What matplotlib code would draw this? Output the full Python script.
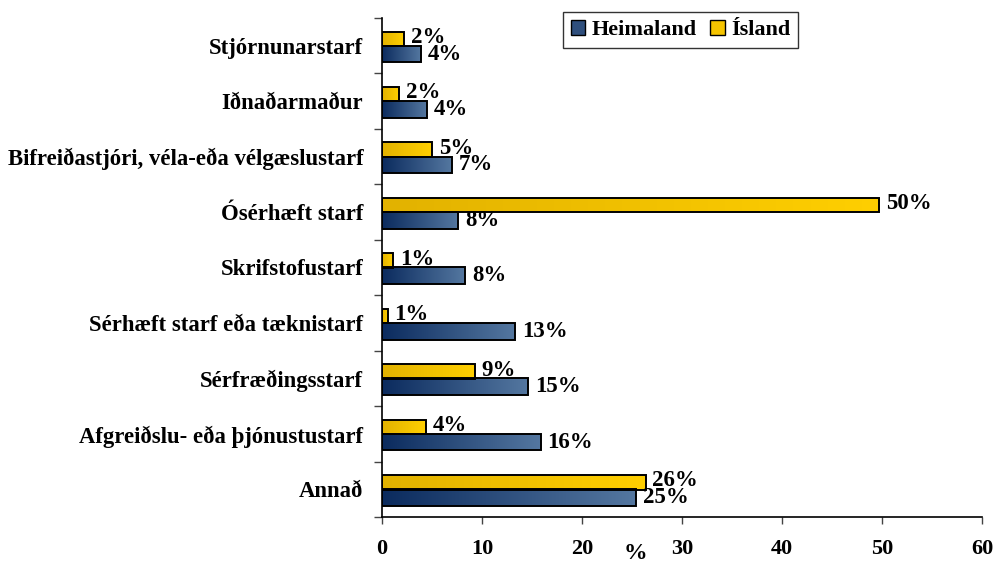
import numpy as np
import matplotlib
matplotlib.use("Agg")
import matplotlib.pyplot as plt
from matplotlib.colors import LinearSegmentedColormap
from matplotlib.patches import Patch

plt.rcParams['font.family'] = ['Liberation Serif', 'DejaVu Serif']
plt.rcParams['font.weight'] = 'bold'

categories = [
    "Stjórnunarstarf",
    "Iðnaðarmaður",
    "Bifreiðastjóri, véla-eða vélgæslustarf",
    "Ósérhæft starf",
    "Skrifstofustarf",
    "Sérhæft starf eða tæknistarf",
    "Sérfræðingsstarf",
    "Afgreiðslu- eða þjónustustarf",
    "Annað",
]
heimaland = [3.9, 4.45, 7.0, 7.6, 8.3, 13.3, 14.6, 15.85, 25.4]
island = [2.2, 1.7, 5.0, 49.75, 1.1, 0.55, 9.25, 4.4, 26.35]
series_names = ["Heimaland", "Ísland"]
xticks = [0, 10, 20, 30, 40, 50, 60]

blue_cmap = LinearSegmentedColormap.from_list("blue", ["#0b2b5e", "#5477a0"])
gold_cmap = LinearSegmentedColormap.from_list("gold", ["#e2b200", "#ffcf00"])

fig = plt.figure(figsize=(9.94, 5.65), dpi=100)
ax = fig.add_axes([382 / 994, 48 / 565, 600 / 994, 499 / 565])

y = np.arange(len(categories))
grad = np.linspace(0, 1, 256).reshape(1, -1)


def gradient_bars(values, offset, height, cmap):
    bars = ax.barh(y + offset, values, height=height, facecolor="none",
                   edgecolor="black", linewidth=1.4, zorder=3)
    for rect, v in zip(bars, values):
        x0, y0 = rect.get_x(), rect.get_y()
        im = ax.imshow(grad, cmap=cmap, aspect="auto", zorder=2,
                       extent=(x0, x0 + v, y0, y0 + rect.get_height()),
                       interpolation="bicubic")
        im.set_clip_path(rect)
    return bars


gradient_bars(island, -0.125, 0.26, gold_cmap)
gradient_bars(heimaland, 0.15, 0.30, blue_cmap)

for yi, v in zip(y, island):
    ax.annotate(f"{v:.0f}%", (v, yi - 0.15), xytext=(5, 0), textcoords="offset points",
                ha="left", va="center", fontsize=16.5, fontweight="bold", zorder=4)
for yi, v in zip(y, heimaland):
    ax.annotate(f"{v:.0f}%", (v, yi + 0.15), xytext=(5, 0), textcoords="offset points",
                ha="left", va="center", fontsize=16.5, fontweight="bold", zorder=4)

ax.set_xlim(0, 60)
ax.set_ylim(len(categories) - 0.5, -0.5)
ax.set_xticks(xticks)
ax.set_xticklabels([str(t) for t in xticks], fontsize=16, fontweight="bold")
ax.set_yticks(y)
ax.set_yticklabels(categories, fontsize=16.4, fontweight="bold")
ax.set_yticks(np.arange(-0.5, len(categories) + 0.5, 1), minor=True)
ax.tick_params(axis="y", which="major", length=0, pad=13.5)
ax.tick_params(axis="y", which="minor", length=6, width=1, direction="out", color="#444444")
ax.tick_params(axis="x", which="major", length=5, width=1, direction="out", pad=11, color="#444444")

for s in ["top", "right"]:
    ax.spines[s].set_visible(False)
for s in ["left", "bottom"]:
    ax.spines[s].set_linewidth(1.2)

ax.text(0.423, -0.074, "%", transform=ax.transAxes, ha="center", va="center",
        fontsize=17, fontweight="bold")

handles = [Patch(facecolor="#2f4f7d", edgecolor="black", linewidth=1),
           Patch(facecolor="#f5c400", edgecolor="black", linewidth=1)]
leg = fig.legend(handles, series_names, loc="upper left",
                 bbox_to_anchor=(563 / 994, 1 - 12 / 565),
                 ncol=2, fontsize=16, frameon=True, fancybox=False,
                 handlelength=0.65, handleheight=0.65, handletextpad=0.3,
                 columnspacing=0.6, borderpad=0.35, borderaxespad=0)
leg.get_frame().set_edgecolor("black")
leg.get_frame().set_linewidth(1)
for t in leg.get_texts():
    t.set_fontweight("bold")

fig.savefig("out.png", dpi=100)
